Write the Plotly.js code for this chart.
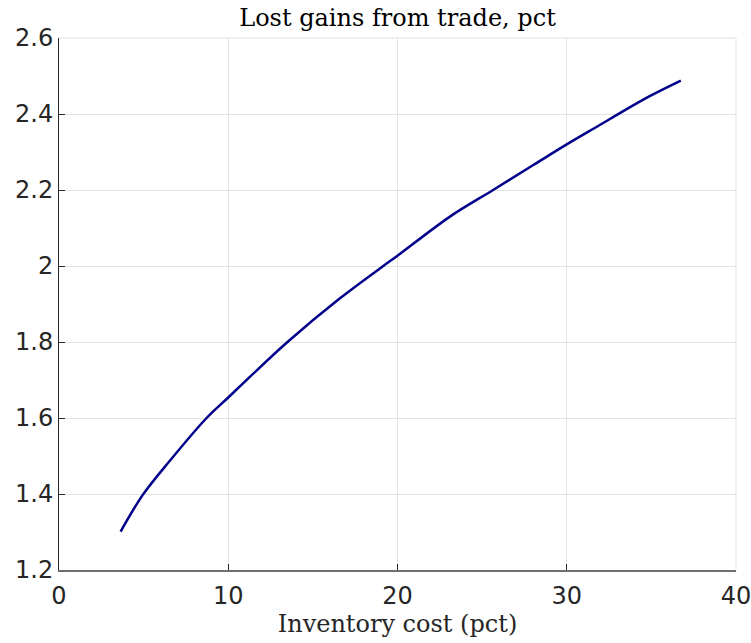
<!DOCTYPE html>
<html>
<head>
<meta charset="utf-8">
<script src="https://cdn.plot.ly/plotly-3.0.1.min.js"></script>
<style>
  html, body { margin: 0; padding: 0; background: #ffffff; }
  #chart { width: 751px; height: 643px; }
</style>
</head>
<body>
<div id="chart"></div>
<script>
// Inventory cost (pct)
const inventoryCost = [3.64, 4.94, 6.56, 8.68, 10.0, 11.2, 13.5, 16.6, 19.16, 20.0, 23.1, 25.65, 28.0, 30.0, 31.95, 33.24, 34.9, 36.74];
// Lost gains from trade (pct)
const lostGains = [1.301, 1.397, 1.488, 1.598, 1.654, 1.705, 1.80, 1.915, 2.00, 2.027, 2.13, 2.20, 2.265, 2.32, 2.371, 2.405, 2.447, 2.488];

const xTicks = [0, 10, 20, 30, 40];
const yTicks = [1.2, 1.4, 1.6, 1.8, 2, 2.2, 2.4, 2.6];
const yTickText = ['1.2', '1.4', '1.6', '1.8', '2', '2.2', '2.4', '2.6'];

const trace = {
  x: inventoryCost,
  y: lostGains,
  type: 'scatter',
  mode: 'lines',
  line: { color: '#00008b', width: 2.5, shape: 'spline', smoothing: 1 },
  hoverinfo: 'x+y'
};

const tickFont = { family: 'DejaVu Sans, sans-serif', size: 24, color: '#262626' };
const serif = 'DejaVu Serif, Liberation Serif, serif';

const layout = {
  width: 751,
  height: 643,
  margin: { l: 59, r: 15, t: 38, b: 73 },
  paper_bgcolor: '#ffffff',
  plot_bgcolor: '#ffffff',
  showlegend: false,
  title: {
    text: 'Lost gains from trade, pct',
    font: { family: serif, size: 24, color: '#000000' },
    x: 0.5, xref: 'paper', xanchor: 'center',
    y: 0.972, yref: 'container', yanchor: 'middle'
  },
  xaxis: {
    range: [0, 40],
    tickvals: xTicks,
    ticktext: xTicks.map(String),
    tickfont: tickFont,
    ticks: 'inside', ticklen: 6, tickcolor: '#262626', tickwidth: 1,
    ticklabelstandoff: 4,
    ticklabeloverflow: 'allow',
    showline: true, linecolor: '#6e6e6e', linewidth: 1.5,
    showgrid: true, gridcolor: '#e3e3e3', gridwidth: 1,
    zeroline: false,
    mirror: false,
    title: { text: 'Inventory cost (pct)', font: { family: serif, size: 24, color: '#262626' }, standoff: 2 }
  },
  yaxis: {
    range: [1.2, 2.6],
    tickvals: yTicks,
    ticktext: yTickText,
    tickfont: tickFont,
    ticks: 'inside', ticklen: 6, tickcolor: '#262626', tickwidth: 1,
    ticklabeloverflow: 'allow',
    showline: true, linecolor: '#262626', linewidth: 1,
    showgrid: true, gridcolor: '#e3e3e3', gridwidth: 1,
    zeroline: false,
    mirror: false
  },
  shapes: [
    { type: 'line', xref: 'paper', yref: 'paper', x0: 0, x1: 1, y0: 1, y1: 1, line: { color: '#e3e3e3', width: 1 } },
    { type: 'line', xref: 'paper', yref: 'paper', x0: 1, x1: 1, y0: 0, y1: 1, line: { color: '#e3e3e3', width: 1 } }
  ]
};

Plotly.newPlot('chart', [trace], layout, { displayModeBar: false, staticPlot: true });
</script>
</body>
</html>
